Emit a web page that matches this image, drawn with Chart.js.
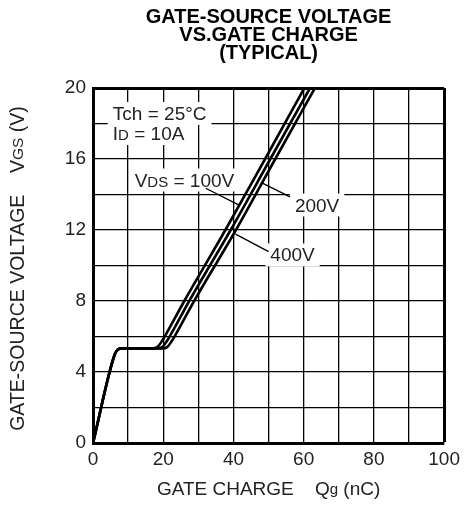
<!DOCTYPE html>
<html>
<head>
<meta charset="utf-8">
<script src="https://cdn.jsdelivr.net/npm/chart.js@4.4.1/dist/chart.umd.min.js"></script>
<style>
body { margin: 0; background: #fff; }
canvas { display: block; }
</style>
</head>
<body>
<canvas id="canvas" width="465" height="519"></canvas>
<script>
// gate charge curves
var Q_100V = [0, 6.2, 7.0, 8.2, 12, 17.0, 18.3, 19.5, 21.0, 26.0, 37.7, 49.0, 60.2];
var Q_200V = [0, 6.2, 7.0, 8.2, 12, 18.4, 19.7, 20.9, 22.4, 27.4, 39.2, 50.5, 61.8];
var Q_400V = [0, 6.2, 7.0, 8.2, 12, 19.8, 21.1, 22.3, 23.8, 28.8, 40.7, 51.9, 63.2];
var VGS    = [0, 5.0, 5.25, 5.33, 5.33, 5.33, 5.4, 5.7, 6.2, 8, 12, 16, 20];

var X_TICKS = [0, 20, 40, 60, 80, 100];
var Y_TICKS = [0, 4, 8, 12, 16, 20];

var TITLE = ['GATE-SOURCE VOLTAGE', 'VS.GATE CHARGE', '(TYPICAL)'];
var FONT = '"Liberation Sans", Arial, sans-serif';
var INK = '#222';

function toPoints(qs, vs){
    var pts = [];
    for(var i = 0; i < qs.length; i++){
        pts.push({x: qs[i], y: vs[i]});
    }
    return pts;
}

function curve(label, qs){
    return {
        label: label,
        data: toPoints(qs, VGS),
        borderColor: '#000',
        borderWidth: 2.6,
        pointRadius: 0,
        fill: false,
        cubicInterpolationMode: 'monotone'
    };
}

// text pieces: [text, font size] so subscripts can be smaller
var notes = [
    {q: 5.65, v: 18.2, parts: [['Tch = 25°C', 19]]},
    {q: 5.65, v: 17.07, parts: [['I', 19], ['D', 15], [' = 10A', 19]]},
    {q: 11.86, v: 14.45, parts: [['V', 19], ['DS', 15], [' = 100V', 19]]},
    {q: 57.5, v: 13.04, parts: [['200V', 19]]},
    {q: 50.5, v: 10.23, parts: [['400V', 19]]}
];
var leaders = [
    [32.1, 14.35, 41.6, 13.4],
    [48.4, 14.63, 56.1, 13.87],
    [40.6, 11.77, 50.0, 10.78]
];

function partsWidth(ctx, parts){
    var w = 0;
    parts.forEach(function(p){
        ctx.font = p[1] + 'px ' + FONT;
        w += ctx.measureText(p[0]).width;
    });
    return w;
}

function drawParts(ctx, x, y, parts){
    var cx = x;
    parts.forEach(function(p){
        ctx.font = p[1] + 'px ' + FONT;
        ctx.fillText(p[0], cx, y);
        cx += ctx.measureText(p[0]).width;
    });
}

var notesPlugin = {
    id: 'notes',
    beforeDatasetsDraw: function(chart){
        var ctx = chart.ctx, sx = chart.scales.x, sy = chart.scales.y;
        ctx.save();
        // white patches behind the labels hide the grid
        ctx.fillStyle = '#fff';
        notes.forEach(function(n){
            var x = sx.getPixelForValue(n.q), y = sy.getPixelForValue(n.v);
            var w = partsWidth(ctx, n.parts);
            ctx.fillRect(x - 5, y - 18, w + 10, 23);
        });
        ctx.strokeStyle = '#000';
        ctx.lineWidth = 1.3;
        leaders.forEach(function(l){
            ctx.beginPath();
            ctx.moveTo(sx.getPixelForValue(l[0]), sy.getPixelForValue(l[1]));
            ctx.lineTo(sx.getPixelForValue(l[2]), sy.getPixelForValue(l[3]));
            ctx.stroke();
        });
        ctx.restore();
    },
    afterDatasetsDraw: function(chart){
        var ctx = chart.ctx, sx = chart.scales.x, sy = chart.scales.y;
        ctx.save();
        ctx.fillStyle = INK;
        ctx.textBaseline = 'alphabetic';
        ctx.textAlign = 'left';
        notes.forEach(function(n){
            drawParts(ctx, sx.getPixelForValue(n.q), sy.getPixelForValue(n.v), n.parts);
        });
        ctx.restore();
    },
    afterDraw: function(chart){
        var ctx = chart.ctx, area = chart.chartArea;
        ctx.save();
        ctx.fillStyle = INK;
        ctx.textBaseline = 'middle';
        ctx.textAlign = 'left';
        var xt = [['GATE CHARGE    Q', 19], ['g', 15], [' (nC)', 19]];
        var w = partsWidth(ctx, xt);
        drawParts(ctx, (area.left + area.right) / 2 - w / 2, 490, xt);

        var yt = [['GATE-SOURCE VOLTAGE    V', 19.5], ['GS', 15.5], [' (V)', 19.5]];
        w = partsWidth(ctx, yt);
        ctx.translate(19, (area.top + area.bottom) / 2 + 3);
        ctx.rotate(-Math.PI / 2);
        drawParts(ctx, -w / 2, 0, yt);
        ctx.restore();
    }
};

var config = {
    type: 'line',
    data: {
        datasets: [
            curve('VDS = 100V', Q_100V),
            curve('VDS = 200V', Q_200V),
            curve('VDS = 400V', Q_400V)
        ]
    },
    options: {
        responsive: false,
        animation: false,
        layout: {padding: {left: 0, right: 18, top: 0, bottom: 0}},
        plugins: {
            legend: {display: false},
            tooltip: {enabled: false},
            title: {
                display: true,
                fullSize: false,
                text: TITLE,
                color: '#000',
                font: {family: FONT, size: 20, weight: 'bold', lineHeight: 0.9},
                padding: {top: 8, bottom: 26}
            }
        },
        scales: {
            x: {
                type: 'linear',
                min: 0,
                max: 100,
                afterFit: function(scale){ scale.height = 76; },
                ticks: {
                    stepSize: 10,
                    padding: 5,
                    color: INK,
                    font: {family: FONT, size: 19},
                    maxRotation: 0,
                    autoSkip: false,
                    callback: function(v){ return X_TICKS.indexOf(v) >= 0 ? String(v) : ''; }
                },
                grid: {
                    color: '#000',
                    drawTicks: false,
                    lineWidth: function(c){ return c.tick && c.tick.value === 100 ? 3 : 1.3; }
                },
                border: {display: true, color: '#000', width: 3}
            },
            y: {
                type: 'linear',
                min: 0,
                max: 20,
                afterFit: function(scale){ scale.width = 93; },
                ticks: {
                    stepSize: 2,
                    padding: 7,
                    color: INK,
                    font: {family: FONT, size: 19},
                    autoSkip: false,
                    callback: function(v){ return Y_TICKS.indexOf(v) >= 0 ? String(v) : ''; }
                },
                grid: {
                    color: '#000',
                    drawTicks: false,
                    lineWidth: function(c){ return c.tick && c.tick.value === 20 ? 3 : 1.3; }
                },
                border: {display: true, color: '#000', width: 3}
            }
        }
    },
    plugins: [notesPlugin]
};

var ctx = document.getElementById('canvas').getContext('2d');
var chart = new Chart(ctx, config);
</script>
</body>
</html>
